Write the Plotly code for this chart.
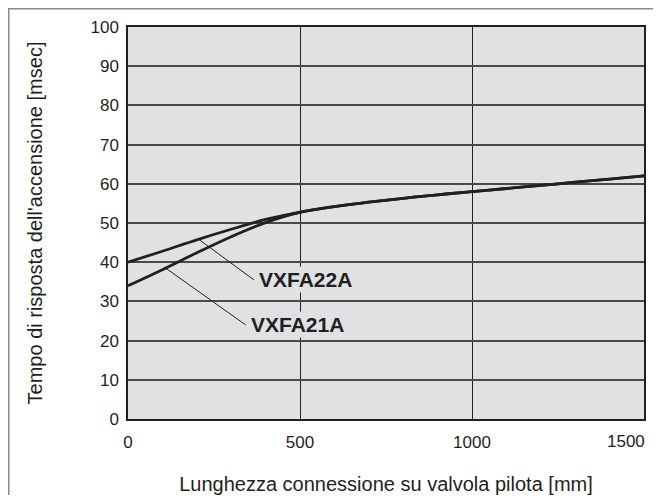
import plotly.graph_objects as go

x_mm = [0, 100, 200, 300, 400, 500, 600, 700, 800, 900, 1000, 1100, 1200, 1300, 1400, 1500]
vxfa22a = [40, 42.8, 45.7, 48.4, 50.9, 52.8, 54.2, 55.3, 56.3, 57.2, 58.0, 58.8, 59.6, 60.4, 61.2, 62.0]
vxfa21a = [34, 38.1, 42.4, 46.5, 50.1, 52.7, 54.2, 55.3, 56.3, 57.2, 58.0, 58.8, 59.6, 60.4, 61.2, 62.0]

labels = ["VXFA22A", "VXFA21A"]
label_pos = [(366, 35.5), (342, 24.0)]
leader_start = [(200, 46.2), (103, 38.9)]

x_ticks = [0, 500, 1000, 1500]
x_ticklabels = ["0", "500", "1000", "1500"]
y_ticks = list(range(0, 101, 10))

font_family = "Liberation Sans, Arial, Helvetica, sans-serif"
txt = "#231f20"

fig = go.Figure()
for name, ys in zip(labels, [vxfa22a, vxfa21a]):
    fig.add_trace(go.Scatter(x=x_mm, y=ys, mode="lines", name=name,
                             line=dict(color="#231f20", width=2.8, shape="spline", smoothing=1.0),
                             showlegend=False, hoverinfo="skip"))

for name, (lx, ly), (sx, sy) in zip(labels, label_pos, leader_start):
    fig.add_annotation(x=lx, y=ly, ax=sx, ay=sy, xref="x", yref="y", axref="x", ayref="y",
                       text="", showarrow=True, arrowhead=0, arrowwidth=1, arrowcolor="#231f20")
    fig.add_annotation(x=lx, y=ly, xref="x", yref="y", text="<b>%s</b>" % name,
                       showarrow=False, xanchor="left", yanchor="middle", xshift=3,
                       font=dict(size=21, color=txt, family=font_family),
                       bgcolor="#e0e1e3", borderpad=1)

# last x tick label sits right-aligned to the axis end (as in the reference)
fig.add_annotation(x=x_ticks[-1], y=0, xref="x", yref="y", text=x_ticklabels[-1],
                   showarrow=False, xanchor="right", yanchor="middle", xshift=3, yshift=-22,
                   font=dict(size=17, color=txt, family=font_family))

# outer frame
fig.add_shape(type="rect", xref="paper", yref="paper", x0=-0.2311, x1=1.06, y0=-0.3, y1=1.0466,
              line=dict(color="#8a8a8a", width=1.5), fillcolor="rgba(0,0,0,0)", layer="below")

fig.update_layout(
    width=645, height=487,
    margin=dict(l=120, r=9, t=19, b=76, autoexpand=False),
    paper_bgcolor="white",
    plot_bgcolor="#e0e1e3",
    font=dict(family=font_family, size=17, color=txt),
)
fig.update_xaxes(range=[0, 1500], tickvals=x_ticks, ticktext=x_ticklabels[:-1] + [""], ticks="",
                 showgrid=True, gridcolor="#231f20", gridwidth=1.2, zeroline=False, automargin=False,
                 showline=True, linecolor="#231f20", linewidth=1.5, mirror=True,
                 ticklabelstandoff=7,
                 title=dict(text="Lunghezza connessione su valvola pilota [mm]", standoff=29,
                            font=dict(size=20)))
fig.update_yaxes(range=[0, 100], tickvals=y_ticks, ticks="", showgrid=True,
                 gridcolor="#4a4a4a", gridwidth=1.5, zeroline=False, automargin=False,
                 showline=True, linecolor="#231f20", linewidth=1.5, mirror=True,
                 ticklabelstandoff=4,
                 title=dict(text="Tempo di risposta dell'accensione [msec]", standoff=42,
                            font=dict(size=20)))

fig.write_html("out.html")
